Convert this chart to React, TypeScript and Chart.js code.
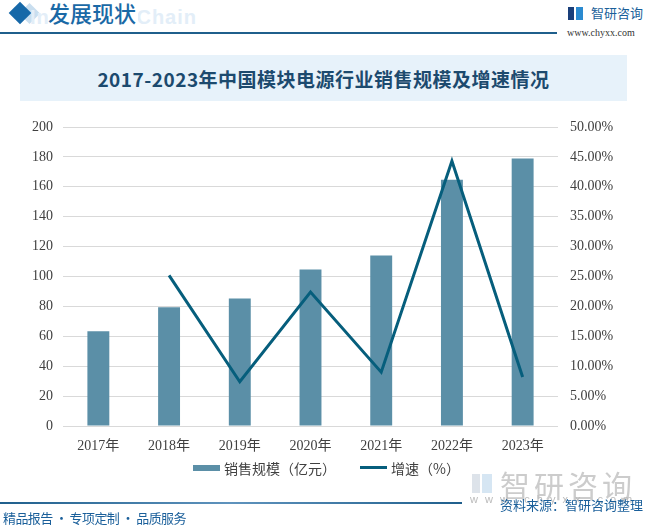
import React, { useEffect, useRef } from "react";
import { Chart, registerables } from "chart.js";

Chart.register(...registerables);

const categories = ["2017年", "2018年", "2019年", "2020年", "2021年", "2022年", "2023年"];
const salesValues = [63.3, 79.5, 85.3, 104.7, 114.0, 164.7, 179.0];
const growthValues = [null, 25.2, 7.4, 22.4, 9.0, 44.3, 8.2];
const seriesNames = ["销售规模（亿元）", "增速（%）"];
const titleText = "2017-2023年中国模块电源行业销售规模及增速情况";

const BAR_COLOR = "#5b8fa7";
const LINE_COLOR = "#065e7c";
const TEXT_COLOR = "#404040";
const GRID_COLOR = "#d9d9d9";

export default function App() {
  const canvasRef = useRef<HTMLCanvasElement | null>(null);

  useEffect(() => {
    const canvas = canvasRef.current;
    if (!canvas) return;
    const chart = new Chart(canvas, {
      type: "bar",
      data: {
        labels: categories,
        datasets: [
          {
            type: "bar",
            label: seriesNames[0],
            data: salesValues,
            backgroundColor: BAR_COLOR,
            borderWidth: 0,
            barPercentage: 0.31,
            categoryPercentage: 1,
            yAxisID: "y",
            order: 2,
          },
          {
            type: "line",
            label: seriesNames[1],
            data: growthValues as any,
            borderColor: LINE_COLOR,
            backgroundColor: LINE_COLOR,
            borderWidth: 3,
            pointRadius: 0,
            tension: 0,
            spanGaps: false,
            yAxisID: "y1",
            order: 1,
          },
        ],
      },
      options: {
        animation: false,
        responsive: false,
        maintainAspectRatio: false,
        layout: { padding: { top: 22, left: 0, right: 0, bottom: 0 } },
        plugins: {
          tooltip: { enabled: false },
          title: { display: false },
          legend: { display: false },
        },
        scales: {
          x: {
            grid: { display: false, drawTicks: false },
            border: { display: false },
            ticks: {
              color: TEXT_COLOR,
              padding: 12,
              maxRotation: 0,
              font: { family: "'Liberation Serif', 'Noto Sans CJK SC', serif", size: 14 },
            },
            afterFit: (scale: any) => {
              scale.height = 34;
            },
          },
          y: {
            position: "left",
            min: 0,
            max: 200,
            grid: { color: GRID_COLOR, lineWidth: 1, drawTicks: false },
            border: { display: false },
            ticks: {
              stepSize: 20,
              padding: 10,
              color: TEXT_COLOR,
              font: { family: "'Liberation Serif', serif", size: 14 },
            },
            afterFit: (scale: any) => {
              scale.width = 63;
            },
          },
          y1: {
            position: "right",
            min: 0,
            max: 50,
            grid: { display: false, drawTicks: false },
            border: { display: false },
            ticks: {
              stepSize: 5,
              padding: 12,
              color: TEXT_COLOR,
              font: { family: "'Liberation Serif', serif", size: 14 },
              callback: (v: any) => Number(v).toFixed(2) + "%",
            },
            afterFit: (scale: any) => {
              scale.width = 90;
            },
          },
        },
      },
    });
    return () => chart.destroy();
  }, []);

  const legendText: React.CSSProperties = {
    position: "absolute",
    top: 459,
    fontSize: 14,
    lineHeight: "18px",
    color: TEXT_COLOR,
    whiteSpace: "nowrap",
  };

  return (
    <div
      style={{
        position: "fixed",
        left: 0,
        top: 0,
        width: 648,
        height: 526,
        background: "#ffffff",
        overflow: "hidden",
        fontFamily: "'Noto Sans CJK SC', sans-serif",
      }}
    >
      {/* header */}
      <div
        style={{
          position: "absolute",
          left: 22,
          top: 6,
          width: 15,
          height: 15,
          background: "#c9deef",
          transform: "rotate(45deg)",
        }}
      />
      <div
        style={{
          position: "absolute",
          left: 12,
          top: 5,
          width: 16,
          height: 16,
          background: "#1668a8",
          transform: "rotate(45deg)",
        }}
      />
      <div
        style={{
          position: "absolute",
          right: 451,
          top: 6,
          fontFamily: "'Liberation Sans', Arial, sans-serif",
          fontWeight: 700,
          fontSize: 20,
          letterSpacing: 1,
          color: "#e3eef8",
          whiteSpace: "nowrap",
        }}
      >
        Industrial Chain
      </div>
      <div
        style={{
          position: "absolute",
          left: 48,
          top: -3,
          fontSize: 22,
          fontWeight: 500,
          color: "#1a69a6",
          whiteSpace: "nowrap",
          lineHeight: "30px",
          background: "transparent",
        }}
      >
        <span style={{ background: "#ffffff", padding: "0 2px 0 0" }}>发展现状</span>
      </div>
      <div
        style={{
          position: "absolute",
          left: 0,
          top: 32,
          width: 557,
          height: 2,
          background: "#1f5f8c",
        }}
      />
      {/* logo top right */}
      <div style={{ position: "absolute", left: 568, top: 7, width: 6, height: 13, background: "#1a3f7a" }} />
      <div style={{ position: "absolute", left: 576, top: 7, width: 7, height: 13, background: "#2a8ad0" }} />
      <div
        style={{
          position: "absolute",
          left: 591,
          top: 4,
          fontSize: 13,
          color: "#1a5f9a",
          whiteSpace: "nowrap",
          lineHeight: "18px",
        }}
      >
        智研咨询
      </div>
      <div
        style={{
          position: "absolute",
          left: 567,
          top: 26,
          fontSize: 10,
          fontFamily: "'Liberation Serif', serif",
          color: "#333333",
          whiteSpace: "nowrap",
          lineHeight: "14px",
        }}
      >
        www.chyxx.com
      </div>

      {/* title band */}
      <div
        style={{
          position: "absolute",
          left: 20,
          top: 55,
          width: 607,
          height: 46,
          background: "#e7f2fa",
          display: "flex",
          alignItems: "center",
          justifyContent: "center",
        }}
      >
        <span
          style={{
            fontSize: 19,
            fontWeight: 700,
            letterSpacing: 0.5,
            color: "#1c4a6e",
            whiteSpace: "nowrap",
          }}
        >
          {titleText}
        </span>
      </div>

      {/* chart */}
      <canvas
        ref={canvasRef}
        width={648}
        height={355}
        style={{ position: "absolute", left: 0, top: 105, width: 648, height: 355 }}
      />

      {/* legend */}
      <div style={{ position: "absolute", left: 193, top: 465, width: 27, height: 6, background: BAR_COLOR }} />
      <div style={{ ...legendText, left: 224 }}>{seriesNames[0]}</div>
      <div style={{ position: "absolute", left: 360, top: 466, width: 27, height: 3, background: LINE_COLOR }} />
      <div style={{ ...legendText, left: 391 }}>{seriesNames[1]}</div>

      {/* bottom watermark logo */}
      <div style={{ position: "absolute", left: 472, top: 474, width: 8, height: 19, background: "#dde3ea" }} />
      <div style={{ position: "absolute", left: 482, top: 474, width: 10, height: 19, background: "#d6e6f3" }} />
      <div
        style={{
          position: "absolute",
          left: 500,
          top: 468,
          fontSize: 30,
          color: "#cccccc",
          whiteSpace: "nowrap",
          lineHeight: "32px",
          letterSpacing: 4,
        }}
      >
        智研咨询
      </div>
      <div
        style={{
          position: "absolute",
          left: 470,
          top: 493,
          fontSize: 11,
          fontFamily: "'Liberation Sans', sans-serif",
          color: "#bbbbbb",
          whiteSpace: "nowrap",
          letterSpacing: 7,
          lineHeight: "13px",
        }}
      >
        www.chyxx.com
      </div>

      {/* footer */}
      <div
        style={{
          position: "absolute",
          left: 0,
          top: 502,
          width: 462,
          height: 2,
          background: "linear-gradient(to right, #1f5f8c 0%, #5f93bd 50%, #1f5f8c 100%)",
        }}
      />
      <div
        style={{
          position: "absolute",
          left: 500,
          top: 496,
          fontSize: 13,
          color: "#1a5f9a",
          whiteSpace: "nowrap",
          lineHeight: "18px",
        }}
      >
        资料来源：智研咨询整理
      </div>
      <div
        style={{
          position: "absolute",
          left: 3,
          top: 509,
          fontSize: 13,
          letterSpacing: -0.6,
          color: "#1a5f9a",
          whiteSpace: "nowrap",
          lineHeight: "18px",
        }}
      >
        精品报告 · 专项定制 · 品质服务
      </div>
    </div>
  );
}
